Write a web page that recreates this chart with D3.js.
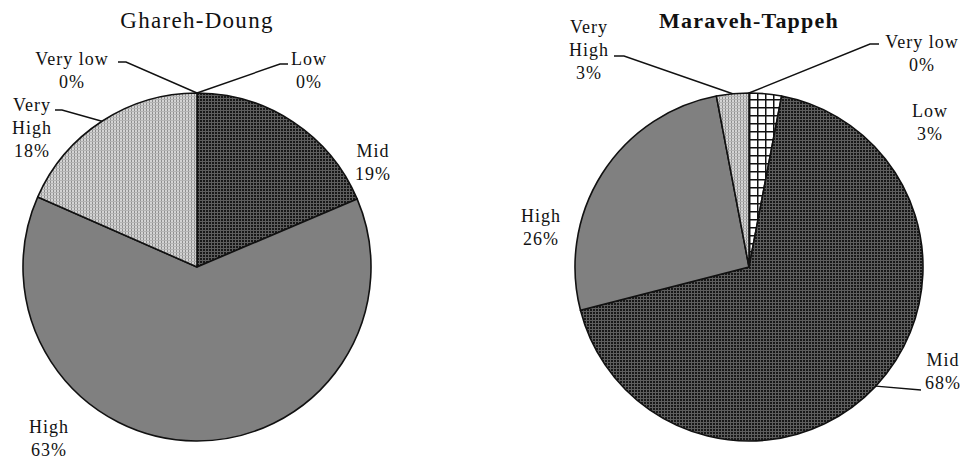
<!DOCTYPE html>
<html>
<head>
<meta charset="utf-8">
<script src="https://cdn.jsdelivr.net/npm/d3@7"></script>
<style>
  body { margin: 0; background: #fff; }
  text { font-family: "Liberation Serif", "Times New Roman", serif; fill: #111; }
  .label { font-size: 18px; letter-spacing: 1px; }
  .title { font-size: 23px; letter-spacing: 1.3px; }
  .title-bold { font-size: 22px; font-weight: bold; letter-spacing: 1.2px; }
</style>
</head>
<body>
<svg id="chart" width="967" height="463"></svg>
<script>
// ----------

const GHAREH_CATEGORIES = ["Low", "Mid", "High", "Very High", "Very low"];
const GHAREH_VALUES = [0, 18.6, 63, 18.4, 0];

const MARAVEH_CATEGORIES = ["Very low", "Low", "Mid", "High", "Very High"];
const MARAVEH_VALUES = [0, 3, 68, 26, 3];

const RADIUS = 174;
const LINE_GAP = 23;

// label placement per chart: text anchor (x, first baseline) and optional leader elbow
const GHAREH_LAYOUT = {
  "Low": { x: 309, y: 65, leader: [[280, 64], [288, 64]] },
  "Mid": { x: 373, y: 157 },
  "High": { x: 49, y: 433 },
  "Very High": { x: 32, y: 111, leader: [[62, 110], [55, 110]] },
  "Very low": { x: 72, y: 65, leader: [[126, 62], [118, 62]] }
};

const MARAVEH_LAYOUT = {
  "Very low": { x: 922, y: 48, leader: [[870, 44], [879, 44]] },
  "Low": { x: 930, y: 117 },
  "Mid": { x: 943, y: 366, leader: [[921, 390]] },
  "High": { x: 541, y: 222 },
  "Very High": { x: 589, y: 33, leader: [[624, 56], [614, 56]] }
};

// ----------

const svg = d3.select("#chart");
const defs = svg.append("defs");

// dark dotted fill
let pDark = defs.append("pattern").attr("id", "pat-dark")
  .attr("width", 3).attr("height", 3).attr("patternUnits", "userSpaceOnUse");
pDark.append("rect").attr("width", 3).attr("height", 3).attr("fill", "#5e5e5e");
pDark.append("rect").attr("width", 2).attr("height", 2).attr("fill", "#181818");

// light fine-grid fill
let pLight = defs.append("pattern").attr("id", "pat-light")
  .attr("width", 3).attr("height", 3).attr("patternUnits", "userSpaceOnUse");
pLight.append("rect").attr("width", 3).attr("height", 3).attr("fill", "#d4d4d4");
pLight.append("rect").attr("width", 1).attr("height", 3).attr("fill", "#8e8e8e");
pLight.append("rect").attr("width", 3).attr("height", 1).attr("fill", "#b4b4b4");

// open crosshatch
let pGrid = defs.append("pattern").attr("id", "pat-grid")
  .attr("width", 8).attr("height", 8).attr("patternUnits", "userSpaceOnUse");
pGrid.append("rect").attr("width", 8).attr("height", 8).attr("fill", "#fff");
pGrid.append("rect").attr("width", 1.5).attr("height", 8).attr("fill", "#111");
pGrid.append("rect").attr("width", 8).attr("height", 1.5).attr("fill", "#111");

function getFill(name) {
  let result = "#fff";
  if (name === "Low") {
    result = "url(#pat-grid)";
  } else if (name === "Mid") {
    result = "url(#pat-dark)";
  } else if (name === "High") {
    result = "#808080";
  } else if (name === "Very High") {
    result = "url(#pat-light)";
  }
  return result;
}

function drawPie(cx, cy, title, titleClass, categories, values, layout) {
  let g = svg.append("g");

  let data = categories.map(function (c, i) {
    return { name: c, value: values[i] };
  });

  let pie = d3.pie().sort(null).value(function (d) { return d.value; });
  let arc = d3.arc().innerRadius(0).outerRadius(RADIUS);
  let arcs = pie(data);

  let slices = g.append("g").attr("transform", "translate(" + cx + "," + cy + ")");

  slices.selectAll("path")
    .data(arcs.filter(function (d) { return d.value > 0; }))
    .enter()
    .append("path")
    .attr("d", arc)
    .attr("fill", function (d) { return getFill(d.data.name); })
    .attr("stroke", "#111")
    .attr("stroke-width", 1.6)
    .attr("stroke-linejoin", "round");

  // leader lines start on the outer edge at the slice's middle angle
  arcs.forEach(function (d) {
    let spec = layout[d.data.name];
    if (!spec || !spec.leader) return;
    let a = (d.startAngle + d.endAngle) / 2;
    let start = [cx + RADIUS * Math.sin(a), cy - RADIUS * Math.cos(a)];
    let pts = [start].concat(spec.leader);
    g.append("path")
      .attr("d", d3.line()(pts))
      .attr("fill", "none")
      .attr("stroke", "#111")
      .attr("stroke-width", 1.4);
  });

  arcs.forEach(function (d) {
    let spec = layout[d.data.name];
    let lines = d.data.name.split(" ");
    if (d.data.name === "Very low") lines = ["Very low"];
    lines.push(d3.format(".0f")(d.value) + "%");
    let t = g.append("text").attr("class", "label").attr("text-anchor", "middle");
    lines.forEach(function (s, i) {
      t.append("tspan").attr("x", spec.x).attr("y", spec.y + i * LINE_GAP).text(s);
    });
  });

  g.append("text")
    .attr("class", titleClass)
    .attr("text-anchor", "middle")
    .attr("x", cx)
    .attr("y", 28)
    .text(title);
}

drawPie(197, 267, "Ghareh-Doung", "title", GHAREH_CATEGORIES, GHAREH_VALUES, GHAREH_LAYOUT);
drawPie(749, 267, "Maraveh-Tappeh", "title-bold", MARAVEH_CATEGORIES, MARAVEH_VALUES, MARAVEH_LAYOUT);
</script>
</body>
</html>
